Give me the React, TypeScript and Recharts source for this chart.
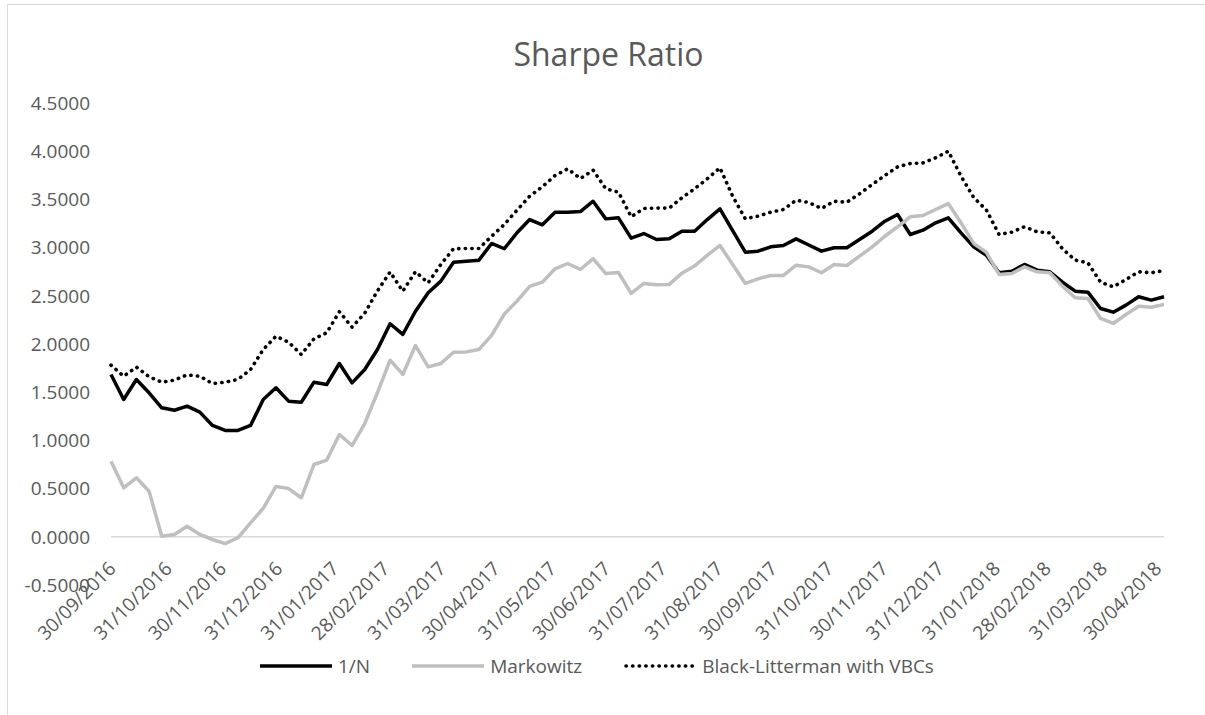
import React from 'react';
import { LineChart, Line, XAxis, YAxis, ReferenceLine, Legend } from 'recharts';

// weekly observation dates
const weekDates = [
  '2016-09-30', '2016-10-07', '2016-10-14', '2016-10-21', '2016-10-28', '2016-11-04', '2016-11-11',
  '2016-11-18', '2016-11-25', '2016-12-02', '2016-12-09', '2016-12-16', '2016-12-23', '2016-12-30',
  '2017-01-06', '2017-01-13', '2017-01-20', '2017-01-27', '2017-02-03', '2017-02-10', '2017-02-17',
  '2017-02-24', '2017-03-03', '2017-03-10', '2017-03-17', '2017-03-24', '2017-03-31', '2017-04-07',
  '2017-04-14', '2017-04-21', '2017-04-28', '2017-05-05', '2017-05-12', '2017-05-19', '2017-05-26',
  '2017-06-02', '2017-06-09', '2017-06-16', '2017-06-23', '2017-06-30', '2017-07-07', '2017-07-14',
  '2017-07-21', '2017-07-28', '2017-08-04', '2017-08-11', '2017-08-18', '2017-08-25', '2017-09-01',
  '2017-09-08', '2017-09-15', '2017-09-22', '2017-09-29', '2017-10-06', '2017-10-13', '2017-10-20',
  '2017-10-27', '2017-11-03', '2017-11-10', '2017-11-17', '2017-11-24', '2017-12-01', '2017-12-08',
  '2017-12-15', '2017-12-22', '2017-12-29', '2018-01-05', '2018-01-12', '2018-01-19', '2018-01-26',
  '2018-02-02', '2018-02-09', '2018-02-16', '2018-02-23', '2018-03-02', '2018-03-09', '2018-03-16',
  '2018-03-23', '2018-03-30', '2018-04-06', '2018-04-13', '2018-04-20', '2018-04-27', '2018-05-04',
];

const oneOverN = [
  1.684, 1.424, 1.632, 1.494, 1.338, 1.313, 1.355, 1.293, 1.155, 1.103, 1.103, 1.155, 1.424, 1.546,
  1.407, 1.396, 1.604, 1.58, 1.798, 1.597, 1.735, 1.943, 2.21, 2.099, 2.34, 2.531, 2.652, 2.849,
  2.859, 2.87, 3.043, 2.988, 3.154, 3.291, 3.236, 3.367, 3.367, 3.374, 3.481, 3.298, 3.309, 3.098,
  3.146, 3.084, 3.091, 3.17, 3.17, 3.291, 3.402, 3.177, 2.952, 2.963, 3.008, 3.022, 3.091, 3.027,
  2.963, 2.998, 2.998, 3.084, 3.17, 3.274, 3.343, 3.136, 3.181, 3.257, 3.309, 3.153, 3.008, 2.92,
  2.739, 2.755, 2.825, 2.766, 2.749, 2.641, 2.548, 2.538, 2.368, 2.33, 2.403, 2.49, 2.455, 2.49,
];

const markowitz = [
  0.784, 0.508, 0.612, 0.473, 0.006, 0.024, 0.11, 0.024, -0.028, -0.07, -0.01, 0.145, 0.295, 0.522,
  0.5, 0.405, 0.75, 0.795, 1.061, 0.947, 1.175, 1.494, 1.832, 1.684, 1.984, 1.763, 1.798, 1.915,
  1.918, 1.943, 2.09, 2.31, 2.445, 2.597, 2.641, 2.78, 2.835, 2.773, 2.885, 2.731, 2.742, 2.526,
  2.628, 2.614, 2.618, 2.735, 2.81, 2.92, 3.022, 2.825, 2.628, 2.676, 2.711, 2.711, 2.818, 2.8,
  2.739, 2.825, 2.814, 2.911, 3.008, 3.118, 3.216, 3.32, 3.333, 3.395, 3.457, 3.257, 3.043, 2.95,
  2.721, 2.731, 2.8, 2.749, 2.739, 2.6, 2.479, 2.472, 2.265, 2.213, 2.306, 2.392, 2.382, 2.41,
];

const blackLitterman = [
  1.78, 1.666, 1.76, 1.66, 1.604, 1.625, 1.68, 1.666, 1.59, 1.604, 1.632, 1.735, 1.943, 2.08,
  2.019, 1.891, 2.054, 2.116, 2.335, 2.175, 2.32, 2.55, 2.747, 2.548, 2.75, 2.635, 2.825, 2.988,
  2.991, 2.991, 3.118, 3.24, 3.388, 3.533, 3.631, 3.748, 3.817, 3.717, 3.803, 3.61, 3.575, 3.32,
  3.406, 3.41, 3.41, 3.517, 3.61, 3.714, 3.828, 3.533, 3.299, 3.326, 3.367, 3.395, 3.492, 3.468,
  3.406, 3.481, 3.471, 3.558, 3.655, 3.748, 3.838, 3.872, 3.879, 3.931, 4.0, 3.741, 3.52, 3.39,
  3.136, 3.16, 3.216, 3.164, 3.153, 2.988, 2.87, 2.842, 2.641, 2.593, 2.669, 2.749, 2.739, 2.762,
];

const monthEnds = [
  '2016-09-30', '2016-10-31', '2016-11-30', '2016-12-31', '2017-01-31', '2017-02-28', '2017-03-31',
  '2017-04-30', '2017-05-31', '2017-06-30', '2017-07-31', '2017-08-31', '2017-09-30', '2017-10-31',
  '2017-11-30', '2017-12-31', '2018-01-31', '2018-02-28', '2018-03-31', '2018-04-30',
];

const yTicks = [-0.5, 0, 0.5, 1, 1.5, 2, 2.5, 3, 3.5, 4, 4.5];

const seriesNames = ['1/N', 'Markowitz', 'Black-Litterman with VBCs'];

const FONT = '"Open Sans", sans-serif';
const TEXT = '#595959';
const W = 1197;
const H = 710;
const M_TOP = 98;
const M_BOTTOM = 100;
const X_AXIS_H = 30;
const PLOT_H = H - M_TOP - M_BOTTOM - X_AXIS_H;
const ZERO_Y = M_TOP + PLOT_H * 0.9;

const toTime = (s: string) => Date.parse(s + 'T00:00:00Z');
const pad = (n: number) => (n < 10 ? '0' + n : '' + n);
const fmtDate = (t: number) => {
  const d = new Date(t);
  return `${pad(d.getUTCDate())}/${pad(d.getUTCMonth() + 1)}/${d.getUTCFullYear()}`;
};

const chartData = weekDates.map((d, i) => ({
  t: toTime(d),
  oneN: oneOverN[i],
  mk: markowitz[i],
  bl: blackLitterman[i],
}));

const series = [
  { key: 'oneN', name: seriesNames[0], color: '#000000', width: 3.5, dash: undefined as string | undefined, cap: 'butt' },
  { key: 'mk', name: seriesNames[1], color: '#bfbfbf', width: 3.5, dash: undefined as string | undefined, cap: 'butt' },
  { key: 'bl', name: seriesNames[2], color: '#000000', width: 3.6, dash: '0.3 6.3', cap: 'round' },
];

// x labels sit under the zero line, as in the original
const DateTick = (props: any) => {
  const { x, payload } = props;
  const tx = x + 6;
  const ty = ZERO_Y + 33;
  return (
    <text
      x={tx}
      y={ty}
      transform={`rotate(-45 ${tx} ${ty})`}
      textAnchor="end"
      fontFamily={FONT}
      fontSize={19}
      fill={TEXT}
    >
      {fmtDate(payload.value)}
    </text>
  );
};

const LegendContent = () => (
  <div style={{ display: 'flex', alignItems: 'center', paddingLeft: 252, fontFamily: FONT, fontSize: 19, color: TEXT }}>
    {series.map((s) => (
      <div key={s.key} style={{ display: 'flex', alignItems: 'center', marginRight: 42 }}>
        <svg width={72} height={10} style={{ marginRight: 6 }}>
          <line
            x1={s.cap === 'round' ? 2 : 0}
            y1={5}
            x2={s.cap === 'round' ? 70 : 72}
            y2={5}
            stroke={s.color}
            strokeWidth={s.width}
            strokeDasharray={s.dash}
            strokeLinecap={s.cap as any}
          />
        </svg>
        <span>{s.name}</span>
      </div>
    ))}
  </div>
);

export default function App() {
  return (
    <div
      style={{
        position: 'absolute',
        left: 7,
        top: 4,
        width: W + 1,
        height: H + 1,
        borderLeft: '1px solid #d9d9d9',
        borderTop: '1px solid #d9d9d9',
        background: '#fff',
        overflow: 'hidden',
      }}
    >
      <div
        style={{
          position: 'absolute',
          left: 0,
          top: 33,
          width: 1201,
          textAlign: 'center',
          fontFamily: FONT,
          fontSize: 32,
          lineHeight: '32px',
          color: TEXT,
        }}
      >
        Sharpe Ratio
      </div>
      <LineChart
        width={W}
        height={H}
        data={chartData}
        margin={{ top: M_TOP, right: 41, bottom: M_BOTTOM, left: 0 }}
      >
        <XAxis
          dataKey="t"
          type="number"
          scale="linear"
          domain={[chartData[0].t, chartData[chartData.length - 1].t]}
          ticks={monthEnds.map(toTime)}
          interval={0}
          height={X_AXIS_H}
          axisLine={false}
          tickLine={false}
          tick={<DateTick />}
        />
        <YAxis
          type="number"
          domain={[-0.5, 4.5]}
          ticks={yTicks}
          interval={0}
          width={103}
          axisLine={false}
          tickLine={false}
          tickSize={0}
          tickMargin={21}
          tickFormatter={(v: number) => v.toFixed(4)}
          tick={{ fontFamily: FONT, fontSize: 19, fill: TEXT }}
        />
        <ReferenceLine y={0} stroke="#d9d9d9" strokeWidth={1.5} />
        {series.map((s) => (
          <Line
            key={s.key}
            type="linear"
            dataKey={s.key}
            name={s.name}
            stroke={s.color}
            strokeWidth={s.width}
            strokeDasharray={s.dash}
            strokeLinecap={s.cap as any}
            strokeLinejoin="round"
            dot={false}
            activeDot={false}
            isAnimationActive={false}
          />
        ))}
        <Legend
          layout="horizontal"
          verticalAlign="middle"
          align="center"
          content={<LegendContent />}
          wrapperStyle={{ top: 648, left: 0, width: W, height: 26 }}
        />
      </LineChart>
    </div>
  );
}
